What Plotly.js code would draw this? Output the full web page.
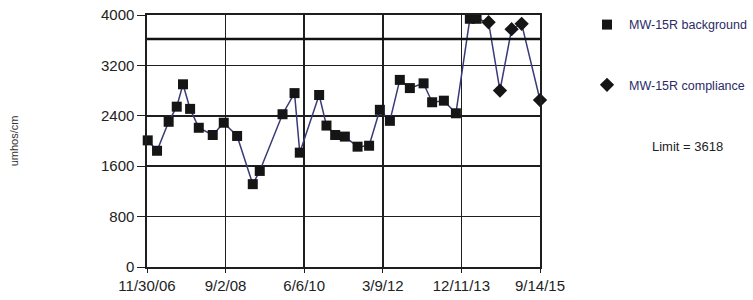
<!DOCTYPE html>
<html>
<head>
<meta charset="utf-8">
<script src="https://cdn.plot.ly/plotly-3.0.1.min.js"></script>
<style>html,body{margin:0;padding:0;background:#fff}#chart{width:753px;height:300px}</style>
</head>
<body>
<div id="chart"></div>
<script>
var bgDates = ['2006-12-06','2007-02-20','2007-05-26','2007-07-31','2007-09-20','2007-11-17','2008-01-27','2008-05-20','2008-08-18','2008-12-05','2009-04-12','2009-06-08','2009-12-11','2010-03-19','2010-05-01','2010-10-06','2010-12-05','2011-02-14','2011-05-04','2011-08-16','2011-11-18','2012-02-14','2012-05-06','2012-07-26','2012-10-16','2013-02-05','2013-04-16','2013-07-21','2013-10-27','2014-02-18','2014-04-14'];
var bgValues = [2010,1845,2305,2545,2900,2510,2210,2095,2290,2080,1315,1525,2425,2760,1815,2730,2245,2095,2070,1910,1925,2495,2320,2970,2840,2915,2615,2640,2440,3940,3940];
var compDates = ['2014-07-21','2014-10-22','2015-01-25','2015-04-17','2015-09-14'];
var compValues = [3885,2800,3775,3860,2650];
var limitValue = 3618;
var tickDates = ['2006-11-30','2008-09-02','2010-06-06','2012-03-09','2013-12-11','2015-09-14'];
var tickLabels = ['11/30/06','9/2/08','6/6/10','3/9/12','12/11/13','9/14/15'];
var yTicks = [0,800,1600,2400,3200,4000];

var lineColor = '#3a3a78';
var traces = [
  {x: bgDates.concat(compDates), y: bgValues.concat(compValues), mode:'lines', type:'scatter',
   line:{color:lineColor, width:1.5}, showlegend:false, hoverinfo:'skip', cliponaxis:false},
  {x: bgDates, y: bgValues, mode:'markers', type:'scatter', name:'MW-15R background',
   marker:{symbol:'square', size:10, color:'#151515'}, cliponaxis:false, legendgroup:'a'},
  {x: compDates, y: compValues, mode:'markers', type:'scatter', name:'MW-15R compliance',
   marker:{symbol:'diamond', size:11, color:'#151515'}, cliponaxis:false, legendgroup:'b'}
];
var gridColor = '#1e1e1e';
var layout = {
  width:753, height:300,
  margin:{l:147, r:213, t:15, b:33, autoexpand:false},
  paper_bgcolor:'#fff', plot_bgcolor:'#fff',
  font:{family:'Liberation Sans, Arial, sans-serif', color:'#222'},
  xaxis:{type:'date', range:[tickDates[0], tickDates[tickDates.length-1]],
    tickvals:tickDates, ticktext:tickLabels, tickfont:{size:15, color:'#222'},
    showgrid:true, gridcolor:gridColor, gridwidth:1.6,
    showline:true, linecolor:gridColor, linewidth:1.6, mirror:true,
    ticks:'outside', ticklen:4, tickcolor:gridColor, zeroline:false, fixedrange:true},
  yaxis:{range:[0,4000], tickvals:yTicks, tickfont:{size:15, color:'#222'},
    showgrid:true, gridcolor:gridColor, gridwidth:1.6,
    showline:true, linecolor:gridColor, linewidth:1.6, mirror:true,
    ticks:'outside', ticklen:8, tickcolor:gridColor, zeroline:false,
    title:{text:'umhos/cm', font:{size:11, color:'#333'}, standoff:80}},
  shapes:[{type:'line', xref:'paper', x0:0, x1:1, yref:'y', y0:limitValue, y1:limitValue,
    line:{color:'#111', width:2.4}}],
  legend:{xref:'container', x:585/753, xanchor:'left', y:1.02, yanchor:'top', tracegroupgap:41, itemwidth:34,
    font:{size:12.5, color:'#2a2a66'}, bgcolor:'rgba(0,0,0,0)'},
  annotations:[{xref:'paper', yref:'paper', x:1.28, y:0.48, xanchor:'left', yanchor:'middle',
    text:'Limit = ' + limitValue, showarrow:false, font:{size:13, color:'#222'}}]
};
Plotly.newPlot('chart', traces, layout, {displayModeBar:false, staticPlot:true});
</script>
</body>
</html>
